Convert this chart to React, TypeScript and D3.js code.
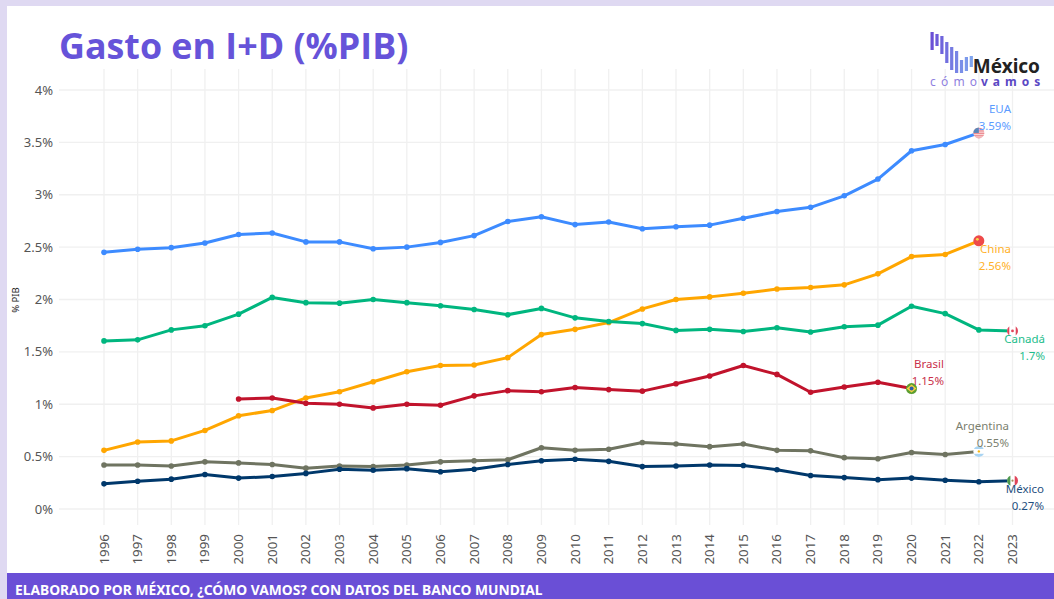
import React from "react";
import * as d3 from "d3";

const years = d3.range(1996, 2024);
const eua = [2.45,2.48,2.495,2.54,2.62,2.635,2.55,2.55,2.485,2.5,2.545,2.61,2.745,2.79,2.715,2.74,2.675,2.695,2.71,2.775,2.84,2.88,2.99,3.15,3.42,3.48,3.59];
const china = [0.56,0.64,0.65,0.75,0.89,0.94,1.06,1.12,1.215,1.31,1.37,1.375,1.445,1.665,1.715,1.78,1.91,2.0,2.025,2.06,2.1,2.115,2.14,2.245,2.41,2.43,2.56];
const canada = [1.605,1.615,1.71,1.75,1.86,2.02,1.97,1.965,2.0,1.97,1.94,1.905,1.855,1.915,1.825,1.79,1.77,1.705,1.715,1.695,1.73,1.69,1.74,1.755,1.935,1.865,1.71,1.7];
const brasil = [1.05,1.06,1.01,1.0,0.965,1.0,0.99,1.08,1.13,1.12,1.16,1.14,1.125,1.195,1.27,1.37,1.285,1.115,1.165,1.21,1.15];
const argentina = [0.42,0.42,0.41,0.45,0.44,0.425,0.39,0.41,0.405,0.42,0.45,0.46,0.47,0.585,0.56,0.57,0.635,0.62,0.595,0.62,0.56,0.555,0.49,0.48,0.54,0.52,0.55];
const mexico = [0.24,0.265,0.285,0.33,0.295,0.31,0.34,0.38,0.37,0.385,0.355,0.38,0.425,0.46,0.475,0.455,0.405,0.41,0.42,0.415,0.375,0.32,0.3,0.28,0.295,0.275,0.26,0.27];
const yTicks = [0, 0.5, 1, 1.5, 2, 2.5, 3, 3.5, 4];
const logoTops = [32, 34, 36, 42, 47, 51, 60, 57, 56];
const logoBottoms = [50, 46, 54, 63, 70, 73, 73, 71, 67];

const FONT = "'Noto Sans', 'Open Sans', sans-serif";
const PURPLE = "#6a4fd6";

const series = [
  { name: "EUA", start: 1996, values: eua, color: "#3d8bff", labelColor: "#5b9bff", val: "3.59%", lx: 1011, ly: 113 },
  { name: "China", start: 1996, values: china, color: "#ffa600", labelColor: "#ffb129", val: "2.56%", lx: 1011, ly: 253 },
  { name: "Canadá", start: 1996, values: canada, color: "#00b67f", labelColor: "#1dbd8c", val: "1.7%", lx: 1045, ly: 343 },
  { name: "Brasil", start: 2000, values: brasil, color: "#c1132c", labelColor: "#c9304a", val: "1.15%", lx: 944, ly: 368 },
  { name: "Argentina", start: 1996, values: argentina, color: "#6f7461", labelColor: "#7b7f6f", val: "0.55%", lx: 1009, ly: 430 },
  { name: "México", start: 1996, values: mexico, color: "#00386b", labelColor: "#1f4f80", val: "0.27%", lx: 1044, ly: 493 },
];

const x = d3.scaleLinear().domain([1996, 2023]).range([104, 1012.5]);
const y = d3.scaleLinear().domain([0, 4]).range([509, 90]);

function Flag({ cx, cy, id, children }: { cx: number; cy: number; id: string; children: React.ReactNode }) {
  return (
    <g>
      <clipPath id={id}><circle cx={cx} cy={cy} r={5.5} /></clipPath>
      <g clipPath={`url(#${id})`}>{children}</g>
    </g>
  );
}

function Flags() {
  const p = (v: number[], s: number, yr: number) => [x(yr), y(v[yr - s])];
  const [ax, ay] = p(eua, 1996, 2022);
  const [cx, cy] = p(china, 1996, 2022);
  const [nx, ny] = p(canada, 1996, 2023);
  const [bx, by] = p(brasil, 2000, 2020);
  const [gx, gy] = p(argentina, 1996, 2022);
  const [mx, my] = p(mexico, 1996, 2023);
  return (
    <g>
      <Flag cx={ax} cy={ay} id="f-us">
        <rect x={ax - 6} y={ay - 6} width={12} height={12} fill="#f8d5d5" />
        {d3.range(0, 5).map(i => <rect key={i} x={ax - 6} y={ay - 5 + i * 2.4} width={12} height={1.2} fill="#ec8a90" />)}
        <rect x={ax - 6} y={ay - 6} width={6} height={6} fill="#5b87b8" />
      </Flag>
      <Flag cx={cx} cy={cy} id="f-cn">
        <rect x={cx - 6} y={cy - 6} width={12} height={12} fill="#ee4a4a" />
        <circle cx={cx - 1.5} cy={cy - 1.5} r={1.4} fill="#f7d64a" />
      </Flag>
      <Flag cx={nx} cy={ny} id="f-ca">
        <rect x={nx - 6} y={ny - 6} width={12} height={12} fill="#fff" />
        <rect x={nx - 6} y={ny - 6} width={2.8} height={12} fill="#e0455a" />
        <rect x={nx + 3.2} y={ny - 6} width={2.8} height={12} fill="#e0455a" />
        <circle cx={nx} cy={ny} r={1.4} fill="#e0455a" />
      </Flag>
      <Flag cx={bx} cy={by} id="f-br">
        <rect x={bx - 6} y={by - 6} width={12} height={12} fill="#5c9e31" />
        <path d={`M${bx - 5},${by}L${bx},${by - 4}L${bx + 5},${by}L${bx},${by + 4}Z`} fill="#f4d03f" />
        <circle cx={bx} cy={by} r={2} fill="#2f5da8" />
      </Flag>
      <Flag cx={gx} cy={gy} id="f-ar">
        <rect x={gx - 6} y={gy - 6} width={12} height={12} fill="#fff" />
        <rect x={gx - 6} y={gy - 6} width={12} height={3.6} fill="#a9d4f2" />
        <rect x={gx - 6} y={gy + 2.4} width={12} height={3.6} fill="#a9d4f2" />
        <circle cx={gx} cy={gy} r={1.2} fill="#f6b40e" />
      </Flag>
      <Flag cx={mx} cy={my} id="f-mx">
        <rect x={mx - 6} y={my - 6} width={12} height={12} fill="#fff" />
        <rect x={mx - 6} y={my - 6} width={3.9} height={12} fill="#4f9a4f" />
        <rect x={mx + 2.2} y={my - 6} width={3.9} height={12} fill="#e0455a" />
        <circle cx={mx} cy={my} r={1.1} fill="#a88a5a" />
      </Flag>
    </g>
  );
}

export default function App() {
  const line = d3.line<[number, number]>().x(d => x(d[0])).y(d => y(d[1]));
  const colorScale = d3.scaleLinear<string>().domain([0, logoTops.length - 1]).range(["#6a4fd6", "#7fa4ee"]);
  return (
    <svg width={1054} height={599} style={{ position: "absolute", left: 0, top: 0, fontFamily: FONT }}>
      <rect width={1054} height={599} fill="#dfd9f2" />
      <rect x={7} y={6} width={1047} height={593} fill="#fff" />

      {yTicks.map(t => (
        <g key={t}>
          <line x1={59} x2={1054} y1={y(t)} y2={y(t)} stroke="#f0f0f0" strokeWidth={1.3} />
          <text x={53} y={y(t) + 4.5} textAnchor="end" fontSize={13} fill="#555">{t}%</text>
        </g>
      ))}
      {years.map(yr => (
        <g key={yr}>
          <line x1={x(yr)} x2={x(yr)} y1={69} y2={525} stroke="#f0f0f0" strokeWidth={1.3} />
          <text transform={`translate(${x(yr) + 4.5},564.5) rotate(-90)`} fontSize={13.3} fill="#555">{yr}</text>
        </g>
      ))}
      <text transform="translate(19,300) rotate(-90)" textAnchor="middle" fontSize={9.5} fill="#222">% PIB</text>

      {series.map(s => {
        const pts = s.values.map((v, i) => [s.start + i, v] as [number, number]);
        return (
          <g key={s.name}>
            <path d={line(pts) ?? ""} fill="none" stroke={s.color} strokeWidth={3} strokeLinejoin="round" />
            {pts.map(p => <circle key={p[0]} cx={x(p[0])} cy={y(p[1])} r={2.8} fill={s.color} />)}
          </g>
        );
      })}

      <Flags />

      {series.map(s => (
        <g key={s.name} fontSize={11.5} fill={s.labelColor} textAnchor="end">
          <text x={s.lx} y={s.ly}>{s.name}</text>
          <text x={s.lx} y={s.ly + 17}>{s.val}</text>
        </g>
      ))}

      <text x={59} y={59} fontSize={35.8} fontWeight={700} fill="#6653d9" style={{ fontFamily: "'Open Sans', sans-serif" }}>Gasto en I+D (%PIB)</text>

      {logoTops.map((t, i) => (
        <rect key={i} x={930.5 + i * 4.9} y={t} width={3.2} height={logoBottoms[i] - t} fill={colorScale(i)} />
      ))}
      <text x={1040} y={73} textAnchor="end" fontSize={19} fontWeight={700} fill="#222">México</text>
      <text x={930} y={86} fontSize={12} fill="#8f7fe0" letterSpacing={5.2}>cómo</text>
      <text x={981} y={86} fontSize={12} fontWeight={700} fill="#5a48c4" letterSpacing={5}>vamos</text>

      <rect x={7} y={573} width={1047} height={26} fill={PURPLE} />
      <text x={15} y={595} fontSize={13.8} fontWeight={700} fill="#fff">ELABORADO POR MÉXICO, ¿CÓMO VAMOS? CON DATOS DEL BANCO MUNDIAL</text>
    </svg>
  );
}
